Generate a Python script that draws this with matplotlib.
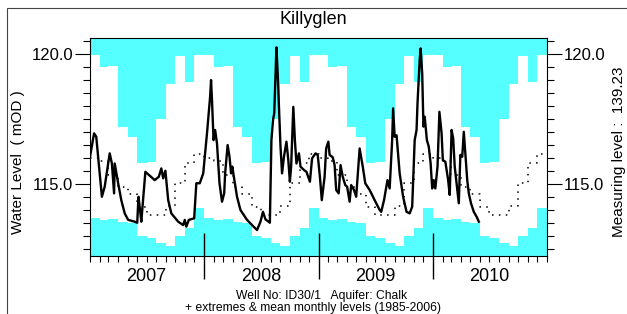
import numpy as np
import pandas as pd
import matplotlib
matplotlib.use('Agg')
import matplotlib.pyplot as plt
from matplotlib.ticker import MultipleLocator, FixedLocator
from matplotlib.patches import Rectangle

plt.rcParams['font.family'] = ['Liberation Sans', 'DejaVu Sans']

# monthly extremes & means 1985-2006, Jan..Dec (mOD)
month_max = [119.96, 119.51, 119.54, 117.18, 116.82, 115.79,
             115.83, 117.49, 118.85, 119.92, 118.94, 119.96]
month_min = [113.68, 113.62, 113.64, 113.55, 113.51, 113.00,
             112.91, 112.72, 112.62, 113.00, 113.32, 114.07]
month_mean = [116.00, 115.90, 115.35, 114.90, 114.60, 114.10,
              113.80, 113.80, 114.15, 115.05, 115.80, 116.15]

years = [2007, 2008, 2009, 2010]

# observed water levels, Killyglen ID30/1
dates = [
    '2007-01-01', '2007-01-14', '2007-01-21', '2007-02-08', '2007-02-17', '2007-03-05',
    '2007-03-12', '2007-03-19', '2007-03-21', '2007-04-01', '2007-04-11', '2007-04-22',
    '2007-05-03', '2007-05-24', '2007-06-01', '2007-06-05', '2007-06-10', '2007-06-14',
    '2007-06-27', '2007-07-27', '2007-08-09', '2007-08-17', '2007-08-23', '2007-08-30',
    '2007-09-08', '2007-09-18', '2007-10-10', '2007-10-26', '2007-10-31', '2007-11-05',
    '2007-11-13', '2007-11-30', '2007-12-07', '2007-12-18', '2007-12-25', '2007-12-29',
    '2008-01-10', '2008-01-20', '2008-01-23', '2008-01-26', '2008-01-31', '2008-02-05',
    '2008-02-11', '2008-02-19', '2008-02-27', '2008-03-05', '2008-03-08', '2008-03-16',
    '2008-03-22', '2008-03-27', '2008-03-31', '2008-04-04', '2008-04-15', '2008-04-26',
    '2008-05-17', '2008-06-07', '2008-06-18', '2008-06-29', '2008-07-07', '2008-07-15',
    '2008-07-29', '2008-08-03', '2008-08-08', '2008-08-12', '2008-08-16', '2008-08-19',
    '2008-08-23', '2008-08-27', '2008-09-01', '2008-09-06', '2008-09-12', '2008-09-20',
    '2008-09-26', '2008-10-01', '2008-10-05', '2008-10-12', '2008-10-17', '2008-10-22',
    '2008-10-30', '2008-11-04', '2008-11-15', '2008-11-23', '2008-12-04', '2008-12-11',
    '2008-12-22', '2008-12-29', '2009-01-05', '2009-01-11', '2009-01-20', '2009-01-25',
    '2009-02-01', '2009-02-05', '2009-02-15', '2009-02-21', '2009-02-26', '2009-03-06',
    '2009-03-12', '2009-03-19', '2009-03-27', '2009-04-02', '2009-04-10', '2009-04-15',
    '2009-04-24', '2009-05-01', '2009-05-12', '2009-05-22', '2009-05-30', '2009-06-13',
    '2009-06-29', '2009-07-15', '2009-07-20', '2009-07-29', '2009-08-09', '2009-08-16',
    '2009-08-24', '2009-08-27', '2009-09-01', '2009-09-07', '2009-09-17', '2009-09-28',
    '2009-10-09', '2009-10-19', '2009-10-27', '2009-11-04', '2009-11-10', '2009-11-13',
    '2009-11-20', '2009-11-23', '2009-11-28', '2009-12-02', '2009-12-06', '2009-12-13',
    '2009-12-19', '2009-12-25', '2009-12-30', '2010-01-04', '2010-01-09', '2010-01-16',
    '2010-01-22', '2010-01-29', '2010-02-02', '2010-02-10', '2010-02-19', '2010-02-24',
    '2010-03-02', '2010-03-07', '2010-03-12', '2010-03-18', '2010-03-25', '2010-03-30',
    '2010-04-05', '2010-04-10', '2010-04-15', '2010-04-21', '2010-04-26', '2010-05-03',
    '2010-05-12', '2010-05-21', '2010-05-28']
levels = [
    116.05, 116.95, 116.82, 114.51, 114.90, 116.18,
    115.79, 114.64, 115.79, 115.03, 114.38, 113.87,
    113.62, 113.55, 113.51, 114.51, 114.00, 113.55,
    115.47, 115.15, 115.28, 115.60, 115.22, 115.51,
    114.38, 113.87, 113.55, 113.42, 113.62, 113.36,
    113.62, 113.68, 115.03, 115.03, 115.28, 115.41,
    116.95, 118.36, 119.00, 118.23, 116.69, 117.08,
    116.56, 115.03, 114.32, 114.64, 115.41, 116.50,
    116.05, 115.41, 115.67, 115.35, 114.51, 114.00,
    113.62, 113.36, 113.23, 113.55, 113.93, 113.64,
    113.51, 116.69, 117.46, 117.72, 119.13, 120.26,
    119.26, 117.97, 116.44, 115.41, 116.05, 116.63,
    115.92, 115.09, 115.67, 117.97, 116.69, 115.79,
    116.18, 115.67, 115.54, 115.47, 115.09, 115.99,
    116.18, 116.12, 115.28, 114.38, 115.28, 116.37,
    116.63, 116.12, 116.03, 115.73, 114.77, 114.64,
    115.73, 115.28, 114.96, 114.90, 114.32, 114.96,
    114.77, 114.51, 116.37, 115.67, 115.03, 114.77,
    114.38, 114.00, 113.93, 114.38, 115.15, 114.83,
    116.69, 117.91, 116.82, 116.88, 115.41, 114.51,
    113.93, 113.87, 114.13, 116.69, 117.08, 118.10,
    119.77, 120.22, 119.26, 117.21, 117.59, 116.69,
    116.44, 115.79, 114.83, 115.15, 114.83, 115.67,
    117.78, 116.95, 115.92, 115.86, 115.15, 114.58,
    117.08, 116.76, 115.67, 115.03, 114.26, 116.12,
    116.05, 117.01, 116.18, 115.15, 114.64, 114.26,
    113.93, 113.74, 113.55]

W, H = 627, 314
fig = plt.figure(figsize=(W / 100, H / 100), dpi=100)
ax = fig.add_axes([90 / W, 58 / H, 457 / W, 218 / H])
ax.set_facecolor('#55ffff')

# month edges for the step bands
edges = pd.date_range('%d-01-01' % years[0], '%d-01-01' % (years[-1] + 1), freq='MS')
hi = np.tile(month_max, len(years))
lo = np.tile(month_min, len(years))
mn = np.tile(month_mean, len(years))
hi = np.append(hi, hi[-1])
lo = np.append(lo, lo[-1])
mn = np.append(mn, mn[-1])

ax.fill_between(edges, lo, hi, step='post', color='white', lw=0, zorder=1)
ax.plot(edges, mn, drawstyle='steps-post', color='k', lw=1.1,
        ls=(0, (1, 3.5)), zorder=2)
ax.plot(pd.to_datetime(dates), levels, color='k', lw=1.7, zorder=3)

ax.set_xlim(edges[0], edges[-1])
ax.set_ylim(112.23, 120.62)

# x ticks: long year dividers, short monthly ticks
ax.xaxis.set_major_locator(FixedLocator(
    [matplotlib.dates.date2num(pd.Timestamp('%d-01-01' % y)) for y in years[1:]]))
ax.xaxis.set_minor_locator(matplotlib.dates.MonthLocator())
ax.tick_params(axis='x', which='major', direction='inout', length=33, width=1,
               labelbottom=False)
ax.tick_params(axis='x', which='minor', direction='out', length=4.5, width=0.8)
for y in years:
    ax.text(pd.Timestamp('%d-07-01' % y), -0.092, str(y), transform=ax.get_xaxis_transform(),
            ha='center', va='center', fontsize=13)

# y ticks both sides
ax.set_yticks([115, 120])
ax.set_yticklabels(['115.0', '120.0'])
ax.yaxis.set_minor_locator(MultipleLocator(0.5))
ax.tick_params(axis='y', which='major', direction='out', length=11, width=0.8,
               left=True, right=True, labelleft=True, labelright=True,
               labelsize=12, pad=1)
ax.tick_params(axis='y', which='minor', direction='out', length=5, width=0.8,
               left=True, right=True)
for s in ax.spines.values():
    s.set_linewidth(0.8)

fig.text(0.5, 1 - 20 / H, 'Killyglen', ha='center', va='center', fontsize=13)
fig.text(18 / W, 1 - 162 / H, 'Water Level  ( mOD )', rotation=90,
         ha='center', va='center', fontsize=11)
fig.text(619 / W, 1 - 152 / H, 'Measuring level :  139.23', rotation=90,
         ha='center', va='center', fontsize=11)
fig.text(322 / W, 1 - 296 / H, 'Well No: ID30/1   Aquifer: Chalk',
         ha='center', va='center', fontsize=8.7)
fig.text(313 / W, 1 - 308 / H, '+ extremes & mean monthly levels (1985-2006)',
         ha='center', va='center', fontsize=8.7)

# outer frame (top/left edges visible)
fig.add_artist(Rectangle((7 / W, -0.2), 1.2, 1.2 - 8 / H, transform=fig.transFigure,
                         fill=False, ec='#444444', lw=0.8))

fig.savefig('out.png', dpi=100)
